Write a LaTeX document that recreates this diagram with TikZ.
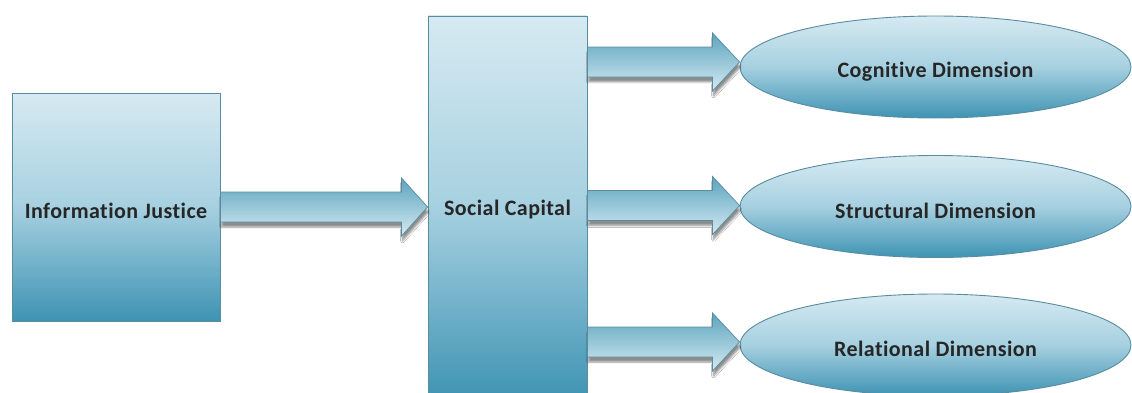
\documentclass[tikz,border=0pt]{standalone}
\usepackage{fontspec}
\setmainfont[LetterSpace=2,Ligatures={NoCommon}]{Carlito}
\usetikzlibrary{shapes.geometric,calc,shadows.blur}
\definecolor{boxtop}{HTML}{D6EAF2}
\definecolor{boxmid}{HTML}{A6D0E0}
\definecolor{boxbot}{HTML}{3E93B3}
\definecolor{edgec}{HTML}{5A8CA0}
\definecolor{arrdark}{HTML}{5CA4BE}
\definecolor{arrlight}{HTML}{D4EAF2}
\tikzset{
  boxnode/.style={rectangle, draw=edgec, line width=0.9pt, top color=boxtop, bottom color=boxbot, middle color=boxmid, inner sep=0pt},
  ellnode/.style={ellipse, draw=edgec, line width=0.9pt, top color=boxtop, bottom color=boxbot, middle color=boxmid, inner sep=0pt, minimum width=391, minimum height=102},
  lbl/.style={inner sep=0pt, text=black!85, font=\bfseries\fontsize{22}{26}\selectfont},
  fatarrow/.style={draw=edgec, line width=0.7pt, top color=arrdark, bottom color=arrlight, blur shadow={shadow xshift=1pt, shadow yshift=-5pt, shadow opacity=45, shadow blur steps=6}},
}
\newcommand\bigarrow[3]{%
  \path[fatarrow] let \p1=(#1), \p2=(#2) in
    (\x1,\y2+15) -- (\x2-#3,\y2+15) -- (\x2-#3,\y2+29) -- (\x2,\y2)
    -- (\x2-#3,\y2-29) -- (\x2-#3,\y2-15) -- (\x1,\y2-15) -- cycle;}
\begin{document}
\begin{tikzpicture}[x=1pt,y=1pt]
\useasboundingbox (0,0) rectangle (1132,392);
\clip (0,0) rectangle (1132,392);
\fill[white] (0,0) rectangle (1132,392);
\node[boxnode, minimum width=208, minimum height=228] (ij) at (116,185) {};
\node[boxnode, minimum width=159, minimum height=384] (sc) at (507.5,184) {};
\node[ellnode] (cog) at (935.5,325) {};
\node[ellnode] (str) at (935.5,185.5) {};
\node[ellnode] (rel) at (935.5,47) {};
\node[lbl] (ijt) at ($(ij)+(0,-4)$) {Information Justice};
\node[lbl] (sct) at ($(sc)+(0,-2)$) {Social Capital};
\node[lbl] (cogt) at ($(cog)+(0,-5)$) {Cognitive Dimension};
\node[lbl] (strt) at ($(str)+(0,-4)$) {Structural Dimension};
\node[lbl] (relt) at ($(rel)+(0,-4)$) {Relational Dimension};
\bigarrow{ij.east}{sc.west |- ij.east}{26}
\bigarrow{sc.east}{$(cog.west)+(0,5)$}{27}
\bigarrow{sc.east}{$(str.west)+(0,1)$}{27}
\bigarrow{sc.east}{$(rel.west)+(0,3)$}{27}
\end{tikzpicture}
\end{document}
